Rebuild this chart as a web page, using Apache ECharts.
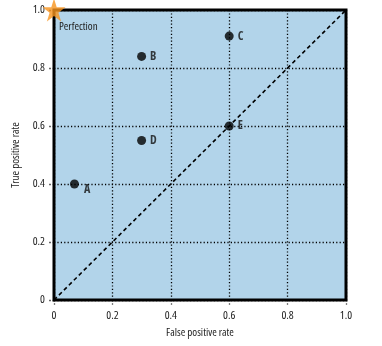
<!DOCTYPE html>
<html>
<head>
<meta charset="utf-8">
<script src="https://cdn.jsdelivr.net/npm/echarts@6/dist/echarts.min.js"></script>
<style>
  html, body { margin: 0; padding: 0; background: #fff; }
  #chart { width: 382px; height: 346px; }
</style>
</head>
<body>
<div id="chart"></div>
<script>
// Classifier points in ROC space
const classifierNames = ['A', 'B', 'C', 'D', 'E'];
const falsePositiveRates = [0.07, 0.30, 0.60, 0.30, 0.60];
const truePositiveRates = [0.40, 0.84, 0.91, 0.55, 0.60];
const perfectPoint = [0, 1];
const diagonal = [[0, 0], [1, 1]];

// Condensed text: the weight slot carries a font-stretch keyword into the canvas font string
const FONT = "'Open Sans', sans-serif";
const COND = 'condensed';
const COND_BOLD = 'bold condensed';
const STAR = 'path://M50,0 L61.8,36.2 L100,36.2 L69.1,58.6 L80.9,95.1 L50,72.6 L19.1,95.1 L30.9,58.6 L0,36.2 L38.2,36.2 Z';

function tickLabel(v) {
  if (v === 0) return '0';
  return v.toFixed(1);
}

const points = classifierNames.map((n, i) => ({
  name: n,
  value: [falsePositiveRates[i], truePositiveRates[i]],
  label: n === 'A' ? { position: [14, 4], align: 'left', verticalAlign: 'top' } : {}
}));

const dotted = { color: '#000', type: [1.2, 2.2], width: 1.3 };

const chart = echarts.init(document.getElementById('chart'), null, { renderer: 'canvas' });
chart.setOption({
  animation: false,
  grid: {
    left: 54, right: 36, top: 10, bottom: 46,
    show: true, backgroundColor: '#b2d4ea', borderColor: '#000', borderWidth: 3
  },
  xAxis: {
    type: 'value', min: 0, max: 1, interval: 0.2,
    name: 'False positive rate', nameLocation: 'middle', nameGap: 26,
    nameTextStyle: { fontFamily: FONT, fontWeight: COND, fontSize: 11, color: '#222' },
    axisLine: { show: false },
    axisTick: { show: true, length: 6, lineStyle: dotted },
    axisLabel: { formatter: tickLabel, fontFamily: FONT, fontWeight: COND, fontSize: 11.5, color: '#222', margin: 10 },
    splitLine: { show: true, lineStyle: dotted }
  },
  yAxis: {
    type: 'value', min: 0, max: 1, interval: 0.2,
    name: 'True positive rate', nameLocation: 'middle', nameGap: 31,
    nameTextStyle: { fontFamily: FONT, fontWeight: COND, fontSize: 11, color: '#222' },
    axisLine: { show: false },
    axisTick: { show: true, length: 6, lineStyle: dotted },
    axisLabel: { formatter: tickLabel, fontFamily: FONT, fontWeight: COND, fontSize: 11.5, color: '#222', margin: 9 },
    splitLine: { show: true, lineStyle: dotted }
  },
  series: [
    {
      type: 'line', data: diagonal, symbol: 'none', silent: true,
      lineStyle: { color: '#000', width: 1.6, type: [4, 3] }
    },
    {
      type: 'scatter', data: points, symbolSize: 9,
      itemStyle: { color: '#000' },
      label: {
        show: true, position: 'right', distance: 4, formatter: '{b}',
        fontFamily: FONT, fontWeight: COND_BOLD, fontSize: 12, color: '#111'
      }
    },
    {
      type: 'scatter', data: [perfectPoint], symbol: STAR, symbolSize: 23,
      clip: false, z: 5, itemStyle: { color: '#f7941d' }
    }
  ],
  graphic: [
    {
      type: 'text', left: 59, top: 21,
      style: { text: 'Perfection', fontFamily: FONT, fontWeight: COND, fontSize: 11, fill: '#222' }
    }
  ]
});
</script>
</body>
</html>
